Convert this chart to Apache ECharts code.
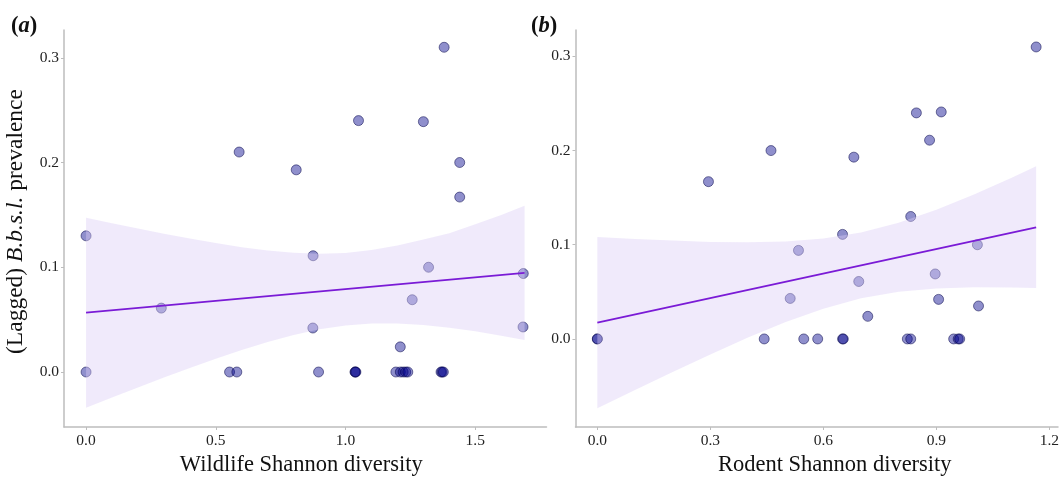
<!DOCTYPE html>
<html>
<head>
<meta charset="utf-8">
<script src="https://cdn.jsdelivr.net/npm/echarts@6/dist/echarts.min.js"></script>
<style>
html,body{margin:0;padding:0;background:#fff;}
#chart{width:1063px;height:482px;}
</style>
</head>
<body>
<div id="chart"></div>
<script>
// ---- Panel (a): wildlife Shannon diversity ----
var wildlifeX = [1.38, 1.05, 1.30, 0.59, 0.81, 1.44, 1.44, 0.00, 0.875, 1.32, 1.685, 0.29, 1.257, 0.874, 1.684, 1.211,
                 0.00, 0.553, 0.581, 0.896, 1.037, 1.037, 1.040, 1.194, 1.211, 1.222, 1.232, 1.240, 1.368, 1.372, 1.377];
var wildlifePrev = [0.310, 0.240, 0.239, 0.210, 0.193, 0.200, 0.167, 0.130, 0.111, 0.100, 0.094, 0.061, 0.069, 0.042, 0.043, 0.024,
                    0, 0, 0, 0, 0, 0, 0, 0, 0, 0, 0, 0, 0, 0, 0];
var wildlifeFitX = [0, 1.69];
var wildlifeFitY = [0.0566, 0.0946];
var wildlifeBandX = [0, 0.1, 0.2, 0.3, 0.4, 0.5, 0.6, 0.7, 0.8, 0.9, 1.0, 1.1, 1.2, 1.3, 1.4, 1.5, 1.6, 1.69];
var wildlifeBandLow = [-0.0341, -0.0243, -0.0148, -0.0053, 0.0038, 0.0127, 0.0210, 0.0287, 0.0354, 0.0408, 0.0445, 0.0464, 0.0464, 0.0449, 0.0422, 0.0388, 0.0347, 0.0306];
var wildlifeBandHigh = [0.1473, 0.1421, 0.1370, 0.1321, 0.1274, 0.1231, 0.1192, 0.1161, 0.1138, 0.1130, 0.1137, 0.1164, 0.1208, 0.1265, 0.1325, 0.1410, 0.1500, 0.1586];
var wildlifeXTicks = [0, 0.5, 1.0, 1.5];

// ---- Panel (b): rodent Shannon diversity ----
var rodentX = [1.165, 0.847, 0.913, 0.882, 0.461, 0.681, 0.295, 0.832, 0.651, 0.534, 1.009, 0.897, 0.694, 0.512, 0.906, 1.012, 0.718,
               0.00, 0.00, 0.443, 0.548, 0.585, 0.651, 0.653, 0.823, 0.832, 0.946, 0.958, 0.962];
var rodentPrev = [0.310, 0.240, 0.241, 0.211, 0.200, 0.193, 0.167, 0.130, 0.111, 0.094, 0.100, 0.069, 0.061, 0.043, 0.042, 0.035, 0.024,
                  0, 0, 0, 0, 0, 0, 0, 0, 0, 0, 0, 0];
var rodentFitX = [0, 1.165];
var rodentFitY = [0.0173, 0.1184];
var rodentBandX = [0, 0.1, 0.2, 0.3, 0.4, 0.5, 0.6, 0.7, 0.8, 0.9, 1.0, 1.1, 1.165];
var rodentBandLow = [-0.0737, -0.0542, -0.0350, -0.0164, 0.0014, 0.0179, 0.0321, 0.0431, 0.0500, 0.0536, 0.0549, 0.0546, 0.0541];
var rodentBandHigh = [0.1083, 0.1062, 0.1044, 0.1030, 0.1026, 0.1035, 0.1067, 0.1131, 0.1234, 0.1372, 0.1533, 0.1710, 0.1833];
var rodentXTicks = [0, 0.3, 0.6, 0.9, 1.2];

var prevalenceTicks = [0, 0.1, 0.2, 0.3];

// ---- styling ----
var FONT = 'Liberation Serif';
var AXIS_GREY = '#BDBDBD';
var TICK_TEXT = '#222222';
var POINT_FILL = 'rgba(0,0,139,0.44)';
var POINT_EDGE = 'rgba(0,0,70,0.5)';
var BAND_FILL = 'rgba(220,205,245,0.42)';
var FIT_COLOR = '#7A1BD6';
var TITLE_SIZE = 22.5;
var TICK_SIZE = 15.5;

function pairs(xs, ys) {
  var out = [];
  for (var i = 0; i < xs.length; i++) out.push([xs[i], ys[i]]);
  return out;
}
function bandData(xs, lo, hi) {
  var out = [];
  for (var i = 0; i < xs.length; i++) out.push([xs[i], lo[i], hi[i]]);
  return out;
}
function bandRenderer(xs, lo, hi) {
  return function (params, api) {
    if (params.dataIndex !== 0) return;
    var pts = [];
    for (var i = 0; i < xs.length; i++) pts.push(api.coord([xs[i], hi[i]]));
    for (var j = xs.length - 1; j >= 0; j--) pts.push(api.coord([xs[j], lo[j]]));
    return { type: 'polygon', shape: { points: pts }, style: { fill: BAND_FILL, stroke: null } };
  };
}
function fmt(v) { return Number(v).toFixed(1); }

function xAxisCfg(idx, min, max, ticks, name, pad) {
  return {
    type: 'value', gridIndex: idx, min: min, max: max,
    name: name, nameLocation: 'middle', nameGap: 27,
    nameTextStyle: { fontFamily: FONT, fontSize: TITLE_SIZE, color: '#111', padding: pad },
    axisLine: { show: true, onZero: false, lineStyle: { color: AXIS_GREY, width: 1.5 } },
    axisTick: { show: true, length: 3, customValues: ticks, lineStyle: { color: AXIS_GREY, width: 1 } },
    axisLabel: { customValues: ticks, formatter: fmt, margin: 6, fontFamily: FONT, fontSize: TICK_SIZE, color: TICK_TEXT },
    splitLine: { show: false }
  };
}
function yAxisCfg(idx, min, max, withName) {
  var cfg = {
    type: 'value', gridIndex: idx, min: min, max: max,
    axisLine: { show: true, onZero: false, lineStyle: { color: AXIS_GREY, width: 1.5 } },
    axisTick: { show: true, length: 3, customValues: prevalenceTicks, lineStyle: { color: AXIS_GREY, width: 1 } },
    axisLabel: { customValues: prevalenceTicks, formatter: fmt, margin: 5, fontFamily: FONT, fontSize: TICK_SIZE, color: TICK_TEXT },
    splitLine: { show: false }
  };
  if (withName) {
    cfg.name = '(Lagged) {i|B.b.s.l.} prevalence';
    cfg.nameLocation = 'middle';
    cfg.nameGap = 36;
    cfg.nameTextStyle = {
      fontFamily: FONT, fontSize: 23.5, color: '#111', padding: [0, 0, 0, 14],
      rich: { i: { fontFamily: FONT, fontSize: 23.5, fontStyle: 'italic', color: '#111' } }
    };
  }
  return cfg;
}

var chart = echarts.init(document.getElementById('chart'), null, { renderer: 'canvas' });
chart.setOption({
  animation: false,
  backgroundColor: '#ffffff',
  title: [
    { text: '{n|(}{i|a}{n|)}', left: 6, top: 10,
      textStyle: { rich: { n: { fontFamily: FONT, fontSize: TITLE_SIZE, color: '#111' }, i: { fontFamily: FONT, fontSize: TITLE_SIZE, fontStyle: 'italic', color: '#111' } } } },
    { text: '{n|(}{i|b}{n|)}', left: 526, top: 10,
      textStyle: { rich: { n: { fontFamily: FONT, fontSize: TITLE_SIZE, color: '#111' }, i: { fontFamily: FONT, fontSize: TITLE_SIZE, fontStyle: 'italic', color: '#111' } } } }
  ],
  grid: [
    { left: 64, top: 30, width: 482.5, height: 397 },
    { left: 575.5, top: 30, width: 482.5, height: 397 }
  ],
  xAxis: [
    xAxisCfg(0, -0.085, 1.7745, wildlifeXTicks, 'Wildlife Shannon diversity', [0, 8, 0, 0]),
    xAxisCfg(1, -0.058, 1.223, rodentXTicks, 'Rodent Shannon diversity', [0, 0, 0, 36])
  ],
  yAxis: [
    yAxisCfg(0, -0.0525, 0.3265, true),
    yAxisCfg(1, -0.0935, 0.328, false)
  ],
  series: [
    { type: 'scatter', xAxisIndex: 0, yAxisIndex: 0, z: 2, symbolSize: 10, silent: true,
      itemStyle: { color: POINT_FILL, borderColor: POINT_EDGE, borderWidth: 1, opacity: 1 },
      data: pairs(wildlifeX, wildlifePrev) },
    { type: 'custom', xAxisIndex: 0, yAxisIndex: 0, z: 3, silent: true,
      renderItem: bandRenderer(wildlifeBandX, wildlifeBandLow, wildlifeBandHigh),
      encode: { x: 0, y: [1, 2] },
      data: bandData(wildlifeBandX, wildlifeBandLow, wildlifeBandHigh) },
    { type: 'line', xAxisIndex: 0, yAxisIndex: 0, z: 4, silent: true, showSymbol: false,
      lineStyle: { color: FIT_COLOR, width: 1.8 },
      data: pairs(wildlifeFitX, wildlifeFitY) },

    { type: 'scatter', xAxisIndex: 1, yAxisIndex: 1, z: 2, symbolSize: 10, silent: true,
      itemStyle: { color: POINT_FILL, borderColor: POINT_EDGE, borderWidth: 1, opacity: 1 },
      data: pairs(rodentX, rodentPrev) },
    { type: 'custom', xAxisIndex: 1, yAxisIndex: 1, z: 3, silent: true,
      renderItem: bandRenderer(rodentBandX, rodentBandLow, rodentBandHigh),
      encode: { x: 0, y: [1, 2] },
      data: bandData(rodentBandX, rodentBandLow, rodentBandHigh) },
    { type: 'line', xAxisIndex: 1, yAxisIndex: 1, z: 4, silent: true, showSymbol: false,
      lineStyle: { color: FIT_COLOR, width: 1.8 },
      data: pairs(rodentFitX, rodentFitY) }
  ]
});
</script>
</body>
</html>
